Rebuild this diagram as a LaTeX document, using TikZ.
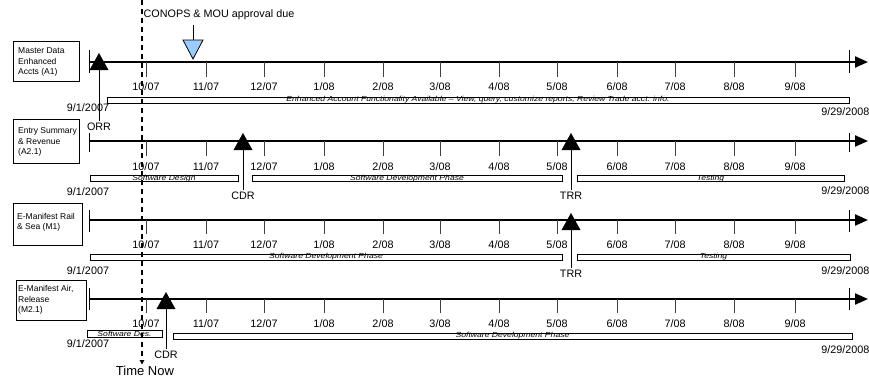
\documentclass[tikz,border=0pt]{standalone}
\usepackage{fontspec}
\setmainfont{Liberation Sans}
\usetikzlibrary{arrows.meta}
\definecolor{msblue}{HTML}{99CCFF}
\newcommand{\squashtxt}[1]{\scalebox{1}[0.85]{#1}}
\tikzset{
  axis/.style={line width=2.2pt, -{Triangle[length=13pt,width=11pt]}},
  endtick/.style={line width=0.9pt},
  monthtick/.style={line width=0.8pt, black!75},
  lbl/.style={font=\fontsize{10.8}{12}\selectfont, inner sep=0pt},
  rowbox/.style={draw, line width=0.8pt, inner sep=0pt},
  rowtext/.style={align=left, inner sep=0pt, font=\fontsize{8.5}{10.5}\selectfont},
  phase/.style={draw, line width=0.7pt, fill=white, inner sep=0pt},
  phaselbl/.style={inner sep=0pt, font=\fontsize{8.6}{9}\selectfont\itshape},
  msline/.style={line width=1pt},
  nowline/.style={line width=1.1pt, dash pattern=on 5pt off 4pt, -{Triangle[length=4.5pt,width=4.5pt]}}
}
\begin{document}
\begin{tikzpicture}[x=1pt,y=-1pt]
\useasboundingbox (0,0) rectangle (869,380);
% timelines
\foreach \r/\y/\ta/\tb/\tm/\ml/\da/\db in {1/62/50/73/77/87/108/112, 2/141/133/152/156/167/192/191, 3/220/210/232/234/245/271/271, 4/299/288/310/313/324/344/350}{
  \coordinate (s\r) at (89,\y);
  \coordinate (e\r) at (868,\y);
  \draw[axis] (s\r) -- (e\r);
  \coordinate (sa\r) at (89,\ta);
  \coordinate (sb\r) at (89,\tb);
  \coordinate (ea\r) at (849,\ta);
  \coordinate (eb\r) at (849,\tb);
  \draw[endtick] (sa\r) -- (sb\r);
  \draw[endtick] (ea\r) -- (eb\r);
  \foreach \x/\mm/\yy [count=\i] in {146/10/07, 206/11/07, 264/12/07, 324/1/08, 383/2/08, 440/3/08, 499/4/08, 557/5/08, 617/6/08, 675/7/08, 734/8/08, 795/9/08}{
    \coordinate (k\r-\i) at (\x,\y);
    \coordinate (kb\r-\i) at (\x,\tm);
    \draw[monthtick] (k\r-\i) -- (kb\r-\i);
    \node[lbl] (m\r-\i) at (\x,\ml) {\mm/\yy};
  }
  \node[lbl] (d\r) at (88,\da) {9/1/2007};
  \node[lbl, anchor=east] (f\r) at (869.5,\db) {9/29/2008};
}
% row labels
\node[rowbox, minimum width=66pt, minimum height=40pt] (r1) at (46,61) {};
\node[rowtext, anchor=west] (r1t) at (18,62) {Master Data\\Enhanced\\Accts (A1)};
\node[rowbox, minimum width=66pt, minimum height=44pt] (r2) at (46,141) {};
\node[rowtext, anchor=west] (r2t) at (18,142) {Entry Summary\\\& Revenue\\(A2.1)};
\node[rowbox, minimum width=69pt, minimum height=42pt] (r3) at (47.5,224) {};
\node[rowtext, anchor=west] (r3t) at (17,222.5) {E-Manifest Rail\\\& Sea (M1)};
\node[rowbox, minimum width=70pt, minimum height=40pt] (r4) at (51,300) {};
\node[rowtext, anchor=west] (r4t) at (18,300) {E-Manifest Air,\\Release\\(M2.1)};
% phases
\foreach \n/\cx/\cy/\w/\h/\t in {
  b1/478/100/742/6/{Enhanced Account Functionality Available -- View, query, customize reports; Review Trade acct. info.},
  b2a/164/178.5/148/5.5/{Software Design},
  b2b/407/178.5/310/5.5/{Software Development Phase},
  b2c/710.5/178.5/267/5.5/{Testing},
  b3a/326/257/472/6/{Software Development Phase},
  b3b/713.5/257/273/6/{Testing},
  b4a/124.5/333.5/75/7/{Software Des.},
  b4b/512.5/336/679/6/{Software Development Phase}}{
  \node[phase, minimum width=\w pt, minimum height=\h pt] (\n) at (\cx,\cy) {};
  \node[phaselbl] (\n t) at (\n.center) {\squashtxt{\t}};
}
% milestones
\foreach \n/\x/\ap/\lt/\ly in {orr/99/53/ORR/127, cdra/243/133/CDR/196, trra/571/133/TRR/196, trrb/571/213/TRR/274, cdrb/166/292/CDR/355}{
  \node[lbl] (\n) at (\x,\ly) {\lt};
  \coordinate (\n-b) at (\x,\ap+17);
  \draw[msline, shorten >=2pt] (\n-b) -- (\n.north);
  \fill (\x-9.5,\ap+17) -- (\x,\ap) -- (\x+9.5,\ap+17) -- cycle;
}
% CONOPS
\node[lbl] (conl) at (219,15) {CONOPS \& MOU approval due};
\coordinate (con) at (193,40);
\draw[msline, shorten >=5pt] (con) -- (con |- conl.south);
\draw[fill=msblue, line width=0.8pt] (183,40) -- (203,40) -- (193,59) -- cycle;
% time now
\coordinate (tn) at (142,0);
\node[inner sep=0pt, font=\fontsize{13}{15}\selectfont] (tnow) at (145,371) {Time Now};
\draw[nowline, shorten >=1.5pt] (tn) -- (tn |- tnow.north);
\end{tikzpicture}
\end{document}
